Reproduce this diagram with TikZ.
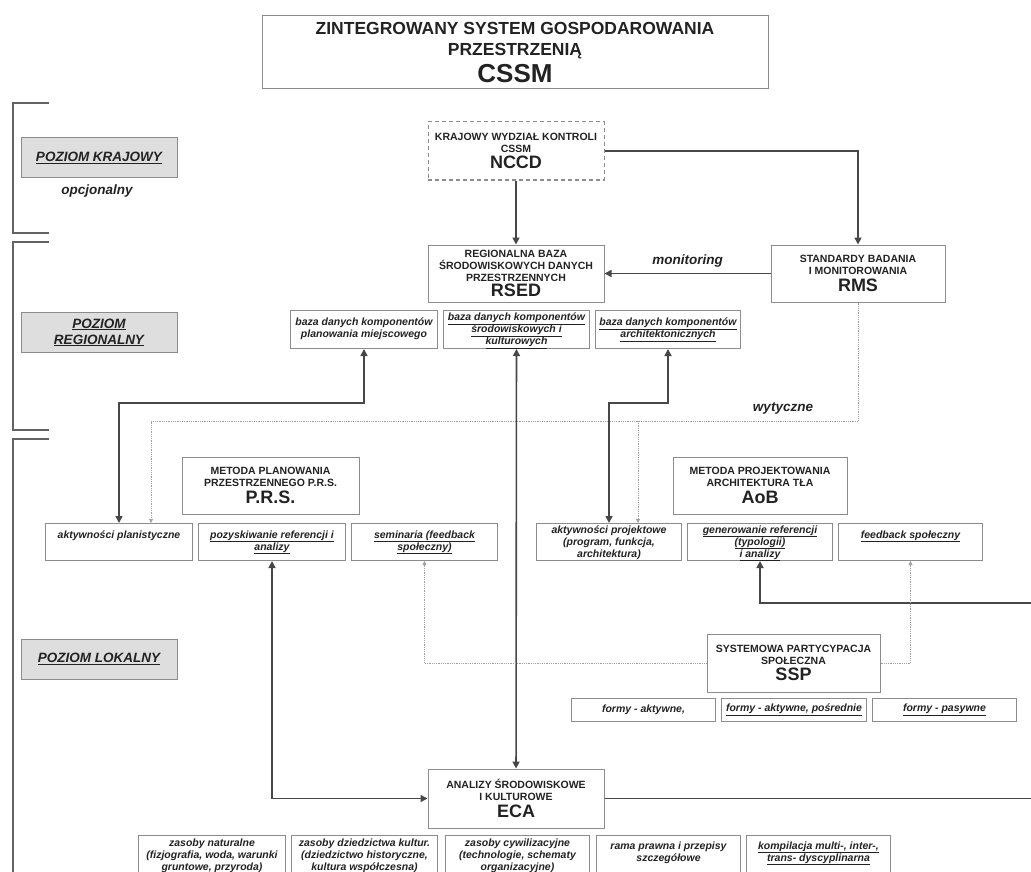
\documentclass[tikz,border=0pt]{standalone}
\usepackage{fontspec}
\setmainfont{Liberation Sans}
\usetikzlibrary{arrows.meta}

\definecolor{ink}{HTML}{222222}
\definecolor{wire}{HTML}{474747}
\definecolor{frame}{HTML}{8C8C8C}
\definecolor{hint}{HTML}{A0A0A0}
\definecolor{shade}{HTML}{DEDEDE}

\newcommand{\celltxt}[4][7]{\parbox[c][#3pt][t]{#2pt}{\centering\vspace*{#1pt}#4}}
\newcommand{\acro}[1]{{\fontsize{18}{20}\selectfont #1}}
\newcommand{\uln}[1]{\underline{#1}}

\tikzstyle{unit} = [draw=frame, line width=1pt, align=center, inner sep=0pt, text=ink, font=\fontsize{10.5}{12}\selectfont\bfseries]
\tikzstyle{cell} = [draw=frame, line width=1pt, inner sep=0pt, text=ink, font=\fontsize{10.5}{12}\selectfont\bfseries\itshape]
\tikzstyle{form} = [draw=frame, line width=1pt, inner sep=0pt, minimum height=23, text=ink, font=\fontsize{10.5}{12}\selectfont\bfseries\itshape]
\tikzstyle{level} = [draw=frame, fill=shade, line width=1pt, minimum width=156, minimum height=40, align=center, text=ink, font=\fontsize{13.5}{16}\selectfont\bfseries\itshape]
\tikzstyle{note} = [text=ink, font=\fontsize{13.5}{15}\selectfont\bfseries\itshape]
\tikzstyle{link} = [draw=wire, line width=1.6pt, >={Triangle[length=7pt,width=7pt]}]
\tikzstyle{guide} = [draw=hint, densely dotted, line width=0.8pt, >={Triangle[length=4pt,width=4pt]}]
\tikzstyle{bracket} = [draw=wire!85, line width=1.4pt]

\begin{document}
\begin{tikzpicture}[x=1pt, y=-1pt]
    \useasboundingbox (0,0) rectangle (1031,872);
    % levels
    \draw [bracket] (49,103) -- (13,103) -- (13,233) -- (49,233);
    \draw [bracket] (49,242) -- (13,242) -- (13,430) -- (49,430);
    \draw [bracket] (49,439) -- (13,439) -- (13,885);
    \draw (99,158) node[level] (national) {\uln{POZIOM KRAJOWY}};
    \draw (97,191) node[note] (optional) {opcjonalny};
    \draw (99,332.5) node[level] (regional) {\uln{POZIOM}\\\uln{REGIONALNY}};
    \draw (99,659) node[level] (local) {\uln{POZIOM LOKALNY}};
    % main units
    \draw (515,52.5) node[unit, minimum width=506, minimum height=73, font=\fontsize{17.5}{21}\selectfont\bfseries] (cssm) {ZINTEGROWANY SYSTEM GOSPODAROWANIA\\PRZESTRZENIĄ\\[4pt]{\fontsize{26}{28}\selectfont CSSM}};
    \draw (516,151) node[unit, dash pattern=on 4pt off 3pt, minimum width=176, minimum height=58] (nccd) {KRAJOWY WYDZIAŁ KONTROLI\\CSSM\\[3pt]\acro{NCCD}};
    \draw (516,273.5) node[unit, minimum width=176, minimum height=57] (rsed) {REGIONALNA BAZA\\ŚRODOWISKOWYCH DANYCH\\PRZESTRZENNYCH\\[2pt]\acro{RSED}};
    \draw (858,273.5) node[unit, minimum width=174, minimum height=57] (rms) {STANDARDY BADANIA\\I MONITOROWANIA\\[3pt]\acro{RMS}};
    \draw (270.5,485.5) node[unit, minimum width=177, minimum height=57] (prs) {METODA PLANOWANIA\\PRZESTRZENNEGO P.R.S.\\[3pt]\acro{P.R.S.}};
    \draw (760,485.5) node[unit, minimum width=174, minimum height=57] (aob) {METODA PROJEKTOWANIA\\ARCHITEKTURA TŁA\\[3pt]\acro{AoB}};
    \draw (793.5,663) node[unit, minimum width=173, minimum height=58] (ssp) {SYSTEMOWA PARTYCYPACJA\\SPOŁECZNA\\[3pt]\acro{SSP}};
    \draw (516,798.5) node[unit, minimum width=176, minimum height=59] (eca) {ANALIZY ŚRODOWISKOWE\\I KULTUROWE\\[3pt]\acro{ECA}};
    % databases
    \draw (290,310) node[cell, anchor=north west] (dbplan) {\celltxt{147}{38}{baza danych komponentów\\planowania miejscowego}};
    \draw (443,310) node[cell, anchor=north west] (dbenv) {\celltxt[2]{146}{38}{\uln{baza danych komponentów}\\\uln{środowiskowych i}\\\uln{kulturowych}}};
    \draw (595,310) node[cell, anchor=north west] (dbarch) {\celltxt{145}{38}{\uln{baza danych komponentów}\\\uln{architektonicznych}}};
    % planning and design
    \draw (45,523) node[cell, anchor=north west] (plan) {\celltxt{147}{37}{aktywności planistyczne}};
    \draw (198,523) node[cell, anchor=north west] (refs) {\celltxt{147}{37}{\uln{pozyskiwanie referencji i}\\\uln{analizy}}};
    \draw (351,523) node[cell, anchor=north west] (sem) {\celltxt{146}{37}{\uln{seminaria (feedback}\\\uln{społeczny)}}};
    \draw (536,523) node[cell, anchor=north west] (design) {\celltxt[2]{145}{37}{aktywności projektowe\\(program, funkcja,\\architektura)}};
    \draw (687,523) node[cell, anchor=north west] (gen) {\celltxt[2]{145}{37}{\uln{generowanie referencji}\\\uln{(typologii)}\\\uln{i analizy}}};
    \draw (838,523) node[cell, anchor=north west] (fb) {\celltxt{144}{37}{\uln{feedback społeczny}}};
    % participation forms
    \draw (571,698) node[form, anchor=north west, minimum width=144] (active) {formy - aktywne,};
    \draw (721,698) node[form, anchor=north west, minimum width=145] (indirect) {\uln{formy - aktywne, pośrednie}};
    \draw (872,698) node[form, anchor=north west, minimum width=144] (passive) {\uln{formy - pasywne}};
    % resources
    \draw (138,835) node[cell, anchor=north west] (nature) {\celltxt[3]{147}{45}{zasoby naturalne\\(fizjografia, woda, warunki\\gruntowe, przyroda)}};
    \draw (291,835) node[cell, anchor=north west] (heritage) {\celltxt[3]{146}{45}{zasoby dziedzictwa kultur.\\(dziedzictwo historyczne,\\kultura współczesna)}};
    \draw (445,835) node[cell, anchor=north west] (civil) {\celltxt[3]{144}{45}{zasoby cywilizacyjne\\(technologie, schematy\\organizacyjne)}};
    \draw (596,835) node[cell, anchor=north west] (law) {\celltxt[6]{144}{45}{rama prawna i przepisy\\szczegółowe}};
    \draw (746,835) node[cell, anchor=north west] (multi) {\celltxt[6]{144}{45}{\uln{kompilacja multi-, inter-,}\\\uln{trans- dyscyplinarna}}};
    % connectors
    \draw [link,->] (nccd) -- (rsed);
    \draw [link,->] (nccd.east) -| (rms.north);
    \draw [link,->] (rms.west) -- node [note, above=2pt] {monitoring} (rsed.east);
    \coordinate (wayL) at (151,421);
    \coordinate (wayR) at (638,421);
    \draw [guide,->] (rms.south) |- (wayL) -- (plan.north -| wayL);
    \draw [guide,->] (wayR) -- (design.north -| wayR);
    \draw (783,408) node[note] (guidelines) {wytyczne};
    \draw [link,<->] (dbplan.south) -- ++(0,54) -| (plan.north);
    \draw [link,<->] (dbarch.south) -- ++(0,54) -| (design.north);
    \draw [link,<->] (dbenv) -- (eca);
    \draw [link,<->] (refs.south) |- (eca.west);
    \coordinate (loop) at (1045,603);
    \draw [link,->] (eca.east) -| (loop) -| (gen.south);
    \draw [guide,->] (ssp.west) -| (sem.south);
    \draw [guide,->] (ssp.east) -| (fb.south);
\end{tikzpicture}
\end{document}
